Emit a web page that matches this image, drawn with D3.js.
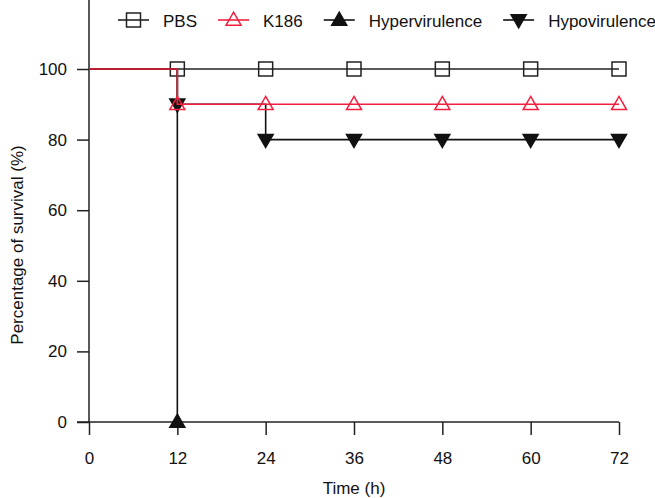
<!DOCTYPE html>
<html>
<head>
<meta charset="utf-8">
<script src="https://cdn.jsdelivr.net/npm/d3@7.9.0/dist/d3.min.js"></script>
<style>
  body { margin: 0; background: #fff; }
  svg { display: block; font-family: "Liberation Sans", Arial, sans-serif; }
</style>
</head>
<body>
<svg id="chart"></svg>
<script>
// --- Data ---
const times = [0, 12, 24, 36, 48, 60, 72];
const pbs = [100, 100, 100, 100, 100, 100, 100];
const k186 = [100, 90, 90, 90, 90, 90, 90];
const hyperTimes = [0, 12];
const hyper = [100, 0];
const hypo = [100, 90, 80, 80, 80, 80, 80];
const xTicks = [0, 12, 24, 36, 48, 60, 72];
const yTicks = [0, 20, 40, 60, 80, 100];

const width = 655, height = 498;
const red = "#f2203e";

const svg = d3.select("#chart").attr("width", width).attr("height", height);

const x = d3.scaleLinear().domain([0, 72]).range([89, 619]);
const y = d3.scaleLinear().domain([0, 100]).range([422, 69]);

// --- Axes ---
const xAxis = svg.append("g")
  .attr("transform", `translate(0,${y(0)})`)
  .call(d3.axisBottom(x).tickValues(xTicks).tickSize(13).tickSizeOuter(0).tickPadding(17));
const yAxis = svg.append("g")
  .attr("transform", `translate(${x(0)},0)`)
  .call(d3.axisLeft(y).tickValues(yTicks).tickSize(12).tickSizeOuter(0).tickPadding(10));

[xAxis, yAxis].forEach(a => {
  a.select(".domain").remove();
  a.selectAll(".tick line").attr("stroke", "#222").attr("stroke-width", 1.5);
  a.selectAll(".tick text").attr("font-size", 17).attr("fill", "#111")
    .attr("font-family", "Liberation Sans, Arial, sans-serif");
});

svg.append("line")
  .attr("x1", x(0) - 12).attr("x2", x(72))
  .attr("y1", y(0)).attr("y2", y(0))
  .attr("stroke", "#222").attr("stroke-width", 1.5);
svg.append("line")
  .attr("x1", x(0)).attr("x2", x(0))
  .attr("y1", y(0)).attr("y2", y(120))
  .attr("stroke", "#222").attr("stroke-width", 1.5);

// axis titles
svg.append("text")
  .attr("x", (x(0) + x(72)) / 2).attr("y", 494)
  .attr("text-anchor", "middle").attr("font-size", 17).attr("fill", "#111")
  .text("Time (h)");
svg.append("text")
  .attr("transform", `translate(23,245) rotate(-90)`)
  .attr("text-anchor", "middle").attr("font-size", 17).attr("fill", "#111")
  .text("Percentage of survival (%)");

// --- Marker shapes ---
const sq = 14, tri = 15;
function marker(g, shape, color, filled) {
  if (shape === "square") {
    g.append("rect")
      .attr("x", -sq / 2).attr("y", -sq / 2).attr("width", sq).attr("height", sq)
      .attr("fill", "none").attr("stroke", color).attr("stroke-width", 1.5);
  } else {
    const h = tri * 0.87;
    const pts = shape === "up"
      ? [[0, -h * 0.6], [tri / 2, h * 0.4], [-tri / 2, h * 0.4]]
      : [[0, h * 0.6], [tri / 2, -h * 0.4], [-tri / 2, -h * 0.4]];
    g.append("path")
      .attr("d", "M" + pts.map(p => p.join(",")).join("L") + "Z")
      .attr("fill", filled ? color : "none")
      .attr("stroke", color).attr("stroke-width", 1.5);
  }
}

const series = [
  { name: "PBS", t: times, v: pbs, color: "#222", shape: "square", filled: false },
  { name: "Hypervirulence", t: hyperTimes, v: hyper, color: "#111", shape: "up", filled: true },
  { name: "Hypovirulence", t: times, v: hypo, color: "#111", shape: "down", filled: true },
  { name: "K186", t: times, v: k186, color: red, shape: "up", filled: false }
];

const line = d3.line().x(d => x(d[0])).y(d => y(d[1])).curve(d3.curveStepAfter);

series.forEach(s => {
  const pts = s.t.map((t, i) => [t, s.v[i]]);
  svg.append("path")
    .attr("d", line(pts))
    .attr("fill", "none").attr("stroke", s.color).attr("stroke-width", 1.6);
  pts.filter(p => p[0] > 0).forEach(p => {
    const g = svg.append("g").attr("transform", `translate(${x(p[0])},${y(p[1])})`);
    marker(g, s.shape, s.color, s.filled);
  });
});

// --- Legend ---
const legendOrder = ["PBS", "K186", "Hypervirulence", "Hypovirulence"];
let lx = 118;
const ly = 20;
legendOrder.forEach(name => {
  const s = series.find(d => d.name === name);
  const g = svg.append("g");
  g.append("line")
    .attr("x1", lx).attr("x2", lx + 31).attr("y1", ly).attr("y2", ly)
    .attr("stroke", s.color).attr("stroke-width", 1.6);
  const m = g.append("g").attr("transform", `translate(${lx + 15.5},${ly})`);
  marker(m, s.shape, s.color, s.filled);
  const t = g.append("text")
    .attr("x", lx + 45).attr("y", ly + 6.5)
    .attr("font-size", 17).attr("fill", "#111")
    .text(name);
  lx = lx + 45 + t.node().getComputedTextLength() + 21;
});
</script>
</body>
</html>
